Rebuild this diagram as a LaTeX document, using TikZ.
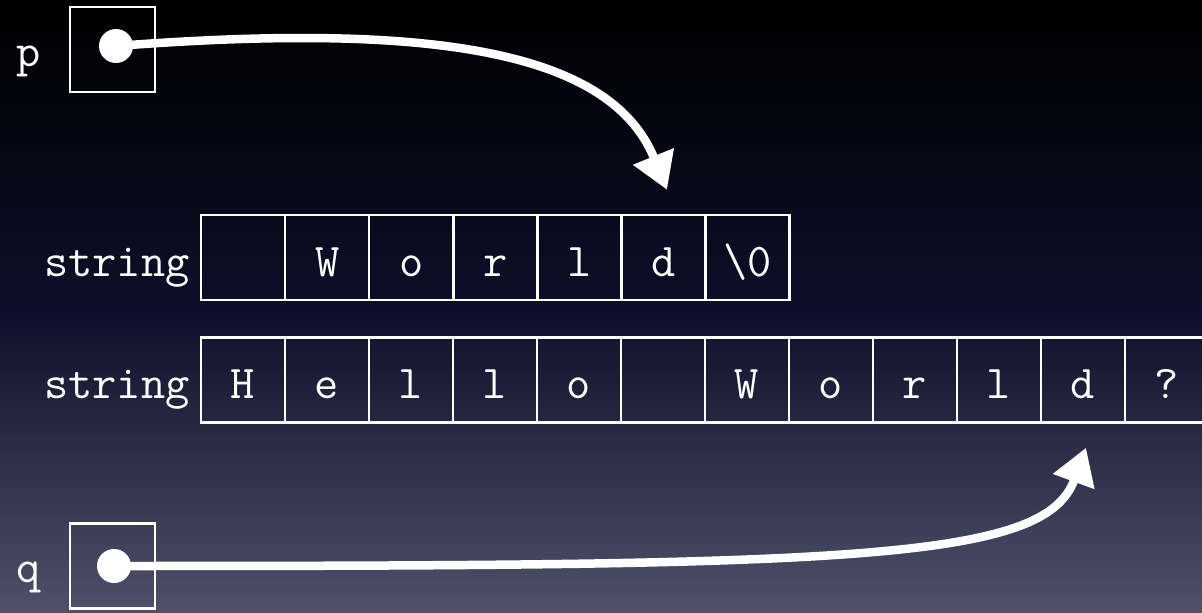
\documentclass[tikz,border=0pt]{standalone}
\usetikzlibrary{arrows.meta}
\definecolor{bgtop}{RGB}{0,0,0}
\definecolor{bgmid}{RGB}{14,14,42}
\definecolor{bgbot}{RGB}{80,80,106}
\newcommand\glyphfont{\fontsize{47}{52}\selectfont\ttfamily}
\begin{document}
\begin{tikzpicture}[x=1pt, y=-1pt,
  cell/.style={draw=white, line width=2.5pt, minimum width=84pt, minimum height=85pt,
    inner sep=0pt, text height=37pt, text depth=0pt, font=\glyphfont, text=white},
  tag/.style={inner sep=0pt, text height=37pt, text depth=0pt, font=\glyphfont, text=white},
  ptrbox/.style={draw=white, line width=2.5pt, minimum size=85pt, inner sep=0pt},
  dot/.style={circle, fill=white, minimum size=34pt, inner sep=0pt},
  ptrarrow/.style={draw=white, line width=8.5pt, -{Triangle[length=36pt, width=42pt]}}]
  % background
  \useasboundingbox (0,0) rectangle (1202,613);
  \shade[top color=bgtop, bottom color=bgbot, middle color=bgmid] (0,0) rectangle (1202,613);

  % short string "World\0"
  \foreach \c [count=\i from 0] in {{},W,o,r,l,d,{\textbackslash0}}
    \node[cell] (w\i) at (243+84.1*\i, 257.5) {\c};
  \node[tag, anchor=east] at ([xshift=-10pt]w0.west) {string};

  % long string "Hello World?"
  \foreach \c [count=\i from 0] in {H,e,l,l,o,{},W,o,r,l,d,?}
    \node[cell] (h\i) at (243+84*\i, 380) {\c};
  \node[tag, anchor=east] at ([xshift=-10pt]h0.west) {string};

  % pointer variables
  \node[ptrbox] (pbox) at (112.5,49.5) {};
  \node[ptrbox] (qbox) at (112.5,566) {};
  \node[tag, anchor=east, text height=33pt] at ([xshift=-28pt]pbox.west) {p};
  \node[tag, anchor=east, text height=33pt] at ([xshift=-28pt]qbox.west) {q};
  \node[dot] (pdot) at (116,46) {};
  \node[dot] (qdot) at (114,566) {};

  % targets
  \coordinate (ptip) at ([xshift=3.5pt, yshift=24pt]w5.north);
  \coordinate (qtip) at ([xshift=3pt, yshift=-24pt]h10.south);

  \draw[ptrarrow] (pdot.center) .. controls (430,22) and (610,50) .. (ptip);
  \draw[ptrarrow] (qdot.center) .. controls (860,566) and (1045,560) .. (qtip);
\end{tikzpicture}
\end{document}
